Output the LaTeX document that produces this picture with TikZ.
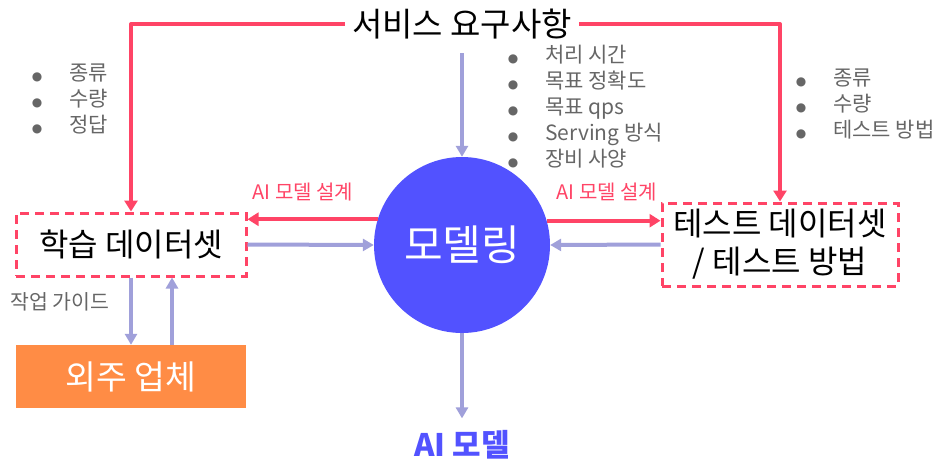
\documentclass[tikz,border=0pt]{standalone}
\usepackage{fontspec}
\setmainfont{Noto Sans CJK KR}
\newfontfamily\djv{DejaVu Sans}
\usetikzlibrary{arrows.meta,calc}
\definecolor{redc}{HTML}{FF4466}
\definecolor{arrowc}{HTML}{A0A0DA}
\definecolor{bluec}{HTML}{5252FF}
\definecolor{orangec}{HTML}{FF8C45}
\definecolor{grayc}{HTML}{666666}
\newcommand\bitem[1]{\makebox[0pt][c]{\textcolor{grayc}{\djv\fontsize{12}{26}\selectfont ●}}\hspace{32pt}#1}
\begin{document}
\begin{tikzpicture}[x=1pt,y=-1pt,
  redline/.style={draw=redc, line width=4pt, line join=round},
  redarrow/.style={redline, -{Triangle[length=11pt,width=13pt]}},
  grayarrow/.style={draw=arrowc, line width=4pt, -{Triangle[length=11pt,width=12pt]}},
  dbox/.style={draw=redc, line width=3pt, dash pattern=on 9pt off 6pt, inner sep=0pt, align=center, text=black},
  lbl/.style={inner sep=0pt, align=center},
  blist/.style={inner sep=0pt, anchor=west, text=grayc, align=left, font=\fontsize{21}{26}\selectfont}
]
\useasboundingbox (0,0) rectangle (952,472);

% main nodes
\node[lbl, inner xsep=7pt, font=\fontsize{33}{38}\selectfont] (title) at (462,24) {서비스 요구사항};
\node[circle, fill=bluec, minimum size=176pt, inner sep=0pt, text=white, font=\fontsize{42}{48}\selectfont] (circ) at (462,245) {모델링};
\node[dbox, minimum width=230pt, minimum height=63pt, font=\fontsize{32}{38}\selectfont] (lbox) at (131,244.5) {학습 데이터셋};
\node[dbox, minimum width=236pt, minimum height=83pt, font=\fontsize{32}{38}\selectfont] (rbox) at (780,244.5) {테스트 데이터셋\\/ 테스트 방법};
\node[fill=orangec, minimum width=230pt, minimum height=63pt, inner sep=0pt, text=white, font=\fontsize{33.5}{38}\selectfont] (obox) at (131,376.5) {외주 업체};
\node[lbl, text=bluec, font=\fontsize{31}{36}\selectfont\bfseries] (aim) at (462,445) {AI 모델};

% labels
\node[lbl, text=redc, font=\fontsize{20}{24}\selectfont] (lbl1) at (303,192) {AI 모델 설계};
\node[lbl, text=redc, font=\fontsize{20}{24}\selectfont] (lbl2) at (607,192) {AI 모델 설계};
\node[lbl, text=grayc, font=\fontsize{20.5}{24}\selectfont] (guide) at (60,302) {작업 가이드};

% bullet lists
\node[blist] (listL) at (37,99) {\bitem{종류}\\\bitem{수량}\\\bitem{정답}};
\node[blist] (listM) at (513,107) {\bitem{처리 시간}\\\bitem{목표 정확도}\\\bitem{목표 qps}\\\bitem{Serving 방식}\\\bitem{장비 사양}};
\node[blist] (listR) at (801,104) {\bitem{종류}\\\bitem{수량}\\\bitem{테스트 방법}};

% red connectors
\draw[redarrow] (title.west) -| (lbox.north);
\draw[redarrow] (title.east) -| (rbox.north);
\draw[redarrow] (circ.163.5) -- (lbox.east |- circ.163.5);
\draw[redarrow] (circ.16.5) -- (rbox.west |- circ.16.5);

% gray connectors
\draw[grayarrow, shorten <=14pt] (title.south) -- (circ.north);
\draw[grayarrow] (lbox.east) -- (circ.west);
\draw[grayarrow] (rbox.west) -- (circ.east);
\draw[grayarrow, shorten >=12pt] (circ.south) -- (aim.north);
\draw[grayarrow] (lbox.south) -- (obox.north);
\draw[grayarrow] ([xshift=41pt]obox.north) -- ([xshift=41pt]lbox.south);
\end{tikzpicture}
\end{document}
